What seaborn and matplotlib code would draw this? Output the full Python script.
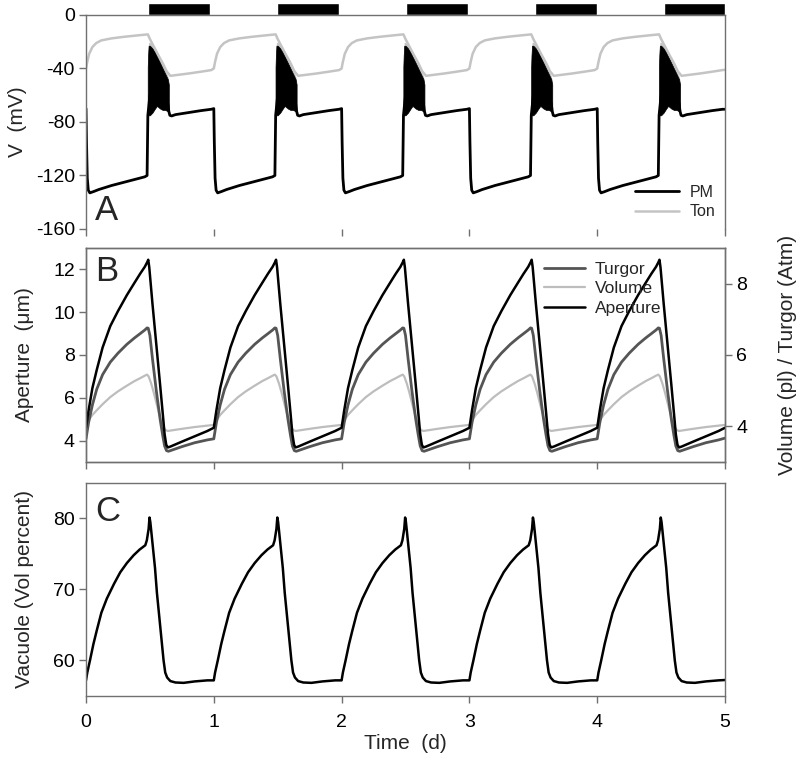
import numpy as np
import pandas as pd
import matplotlib
matplotlib.use("Agg")
import matplotlib.pyplot as plt
from matplotlib.lines import Line2D
import seaborn as sns

# ---------------- data (one daily cycle; the cycle repeats each day) ----------------
days = [0, 1, 2, 3, 4]
t_end = 5.0

# Panel A: membrane voltages (mV)
pm_phase = [0.000, 0.004, 0.010, 0.018, 0.030, 0.060, 0.100, 0.200, 0.300, 0.400, 0.460, 0.478,
            0.484, 0.500, 0.540, 0.600, 0.640, 0.648, 0.656, 0.670, 0.700, 0.800, 0.900, 0.980]
pm_val = [-70, -95, -122, -131, -133, -132, -130.5, -127.5, -125, -122.5, -121, -120,
          -75, -60, -55, -60, -66, -72, -75, -75.5, -74.5, -73, -71.5, -70.5]
pm_last = -70.5

ton_phase = [0.00, 0.01, 0.025, 0.05, 0.08, 0.12, 0.20, 0.30, 0.40, 0.484, 0.50, 0.53, 0.56,
             0.60, 0.63, 0.66, 0.70, 0.80, 0.90, 0.98]
ton_val = [-40, -35, -29, -24, -21, -19, -17.5, -16.3, -15.3, -14.5, -18, -23.5, -29,
           -36, -42, -45.5, -45, -43.8, -42.4, -41.2]
ton_last = -41.0

# night-time PM burst envelope
osc_phase = [0.483, 0.486, 0.490, 0.500, 0.520, 0.540, 0.555, 0.580, 0.600, 0.620, 0.640, 0.648]
osc_hi = [-39, -30, -23, -23, -25, -28, -31, -36, -40, -44, -48, -52]
osc_lo = [-75, -75, -75, -75, -73, -70, -68, -70, -71, -71, -72, -72]

# night bars (dark period)
night_start = [0.483, 1.494, 2.504, 3.511, 4.52]
night_end = [0.97, 1.98, 2.99, 4.0, 5.0]

# Panel B: aperture (um, left) and turgor / volume (right)
ap_phase = [0.00, 0.02, 0.05, 0.084, 0.13, 0.19, 0.25, 0.32, 0.38, 0.424, 0.46, 0.48, 0.487,
            0.495, 0.52, 0.55, 0.58, 0.60, 0.615, 0.628, 0.64, 0.66, 0.75, 0.85, 0.95]
ap_val = [4.6, 5.4, 6.45, 7.3, 8.35, 9.35, 10.05, 10.8, 11.38, 11.8, 12.12, 12.35, 12.45,
          12.1, 10.4, 8.5, 6.6, 5.3, 4.3, 3.8, 3.68, 3.72, 3.95, 4.2, 4.45]
ap_last = 4.6

tur_phase = [0.00, 0.02, 0.05, 0.084, 0.13, 0.19, 0.25, 0.32, 0.38, 0.424, 0.46, 0.478, 0.487,
             0.50, 0.52, 0.55, 0.58, 0.60, 0.615, 0.63, 0.645, 0.75, 0.85, 0.95]
tur_val = [3.65, 4.1, 4.6, 5.04, 5.45, 5.8, 6.05, 6.3, 6.48, 6.6, 6.7, 6.76, 6.75,
           6.55, 5.9, 5.0, 4.2, 3.75, 3.45, 3.32, 3.3, 3.43, 3.54, 3.62]
tur_last = 3.67

vol_phase = [0.00, 0.02, 0.05, 0.084, 0.13, 0.19, 0.25, 0.32, 0.38, 0.424, 0.46, 0.478, 0.49,
             0.51, 0.53, 0.555, 0.58, 0.60, 0.62, 0.64, 0.75, 0.85, 0.95]
vol_val = [4.04, 4.17, 4.32, 4.45, 4.62, 4.82, 4.98, 5.14, 5.27, 5.35, 5.42, 5.45, 5.4,
           5.2, 4.95, 4.6, 4.25, 4.02, 3.9, 3.87, 3.93, 3.98, 4.02]
vol_last = 4.04

# Panel C: vacuole volume percent
vac_phase = [0.00, 0.01, 0.031, 0.058, 0.084, 0.12, 0.163, 0.22, 0.268, 0.32, 0.373, 0.42, 0.464,
             0.476, 0.49, 0.497, 0.503, 0.51, 0.54, 0.555, 0.58, 0.607, 0.62, 0.635, 0.66,
             0.70, 0.764, 0.85, 0.95]
vac_val = [57.2, 58.3, 60.0, 62.3, 64.2, 66.7, 68.7, 70.8, 72.4, 73.7, 74.8, 75.6, 76.2,
           76.9, 78.5, 80.1, 79.5, 78.3, 73.0, 69.5, 65.0, 60.0, 58.3, 57.6, 57.1,
           56.9, 56.85, 57.05, 57.2]
vac_last = 57.25

x_ticks = [0, 1, 2, 3, 4, 5]
a_ticks = [0, -40, -80, -120, -160]
b_left_ticks = [4, 6, 8, 10, 12]
b_right_ticks = [4, 6, 8]
c_ticks = [60, 70, 80]


def series(phase, vals, last):
    t = [d + p for d in days for p in phase] + [t_end]
    v = list(vals) * len(days) + [last]
    return pd.DataFrame({"t": t, "v": v})


# ---------------- style ----------------
sns.set_theme(style="white")
plt.rcParams["font.family"] = ["Liberation Sans", "DejaVu Sans"]
plt.rcParams["axes.unicode_minus"] = False
plt.rcParams["axes.edgecolor"] = "#707070"
plt.rcParams["axes.linewidth"] = 1.0
spine_c = "#707070"

fig = plt.figure(figsize=(7.97, 7.6), dpi=100)
L, W = 0.1079, 0.8018
axA = fig.add_axes([L, 0.6987, W, 0.2816])
axB = fig.add_axes([L, 0.3921, W, 0.2816])
axC = fig.add_axes([L, 0.0842, W, 0.2807])
axB2 = axB.twinx()

TICK = 14
LAB = 15

def style(ax, bottom_spine=True):
    ax.set_xlim(0, 5)
    ax.set_xticks(x_ticks)
    ax.tick_params(axis="both", direction="out", length=5, width=1, color=spine_c,
                   labelsize=TICK, labelcolor="black", pad=3)
    ax.tick_params(axis="x", bottom=True)
    ax.tick_params(axis="y", left=True)
    for s in ax.spines.values():
        s.set_color(spine_c)
        s.set_visible(True)
    if not bottom_spine:
        ax.spines["bottom"].set_visible(False)
    ax.grid(False)

# ---------------- Panel A ----------------
ton_df = series(ton_phase, ton_val, ton_last)
pm_df = series(pm_phase, pm_val, pm_last)
sns.lineplot(data=ton_df, x="t", y="v", ax=axA, color="#c4c4c4", lw=1.8,
             estimator=None, sort=False, label="Ton")
for d in days:
    axA.fill_between([d + p for p in osc_phase], [h + 2.5 for h in osc_hi],
                     [h - 1 for h in osc_hi], color="#c4c4c4", lw=0)
sns.lineplot(data=pm_df, x="t", y="v", ax=axA, color="black", lw=2.0,
             estimator=None, sort=False, label="PM")
for d in days:
    axA.fill_between([d + p for p in osc_phase], osc_hi, osc_lo, color="black", lw=0.5)
axA.broken_barh([(s, e - s) for s, e in zip(night_start, night_end)], (0, 9.3),
                facecolors="black", clip_on=False)
axA.set_ylim(-160, 0)
axA.set_yticks(a_ticks)
style(axA, bottom_spine=False)
axA.set_xticklabels([])
axA.set_xlabel("")
axA.set_ylabel("V  (mV)", fontsize=LAB, labelpad=6)
h, l = axA.get_legend_handles_labels()
order = [l.index("PM"), l.index("Ton")]
axA.legend([h[i] for i in order], [l[i] for i in order], loc="lower right", frameon=False,
           fontsize=11.5, handlelength=2.7, handletextpad=0.7, labelspacing=0.3,
           borderaxespad=0.2)
axA.text(0.014, 0.042, "A", transform=axA.transAxes, fontsize=25, va="baseline", ha="left")

# ---------------- Panel B ----------------
ap_df = series(ap_phase, ap_val, ap_last)
tur_df = series(tur_phase, tur_val, tur_last)
vol_df = series(vol_phase, vol_val, vol_last)
sns.lineplot(data=vol_df, x="t", y="v", ax=axB2, color="#bdbdbd", lw=1.6,
             estimator=None, sort=False)
sns.lineplot(data=tur_df, x="t", y="v", ax=axB2, color="#555555", lw=2.0,
             estimator=None, sort=False)
sns.lineplot(data=ap_df, x="t", y="v", ax=axB, color="black", lw=1.8,
             estimator=None, sort=False)
axB.set_zorder(axB2.get_zorder() + 1)
axB.patch.set_visible(False)
axB.set_ylim(3, 13)
axB.set_yticks(b_left_ticks)
axB2.set_ylim(3, 9)
axB2.set_yticks(b_right_ticks)
style(axB)
style(axB2)
axB2.tick_params(axis="y", right=True, left=False)
axB.set_xticklabels([])
axB.set_xlabel("")
axB2.set_xlabel("")
axB.set_ylabel("Aperture  (\u03bcm)", fontsize=LAB, labelpad=14)
axB2.set_ylabel("Volume (pl) / Turgor (Atm)", fontsize=LAB, labelpad=22)
handles = [Line2D([], [], color="#555555", lw=2.0), Line2D([], [], color="#bdbdbd", lw=1.6),
           Line2D([], [], color="black", lw=1.8)]
axB.legend(handles, ["Turgor", "Volume", "Aperture"], loc="upper left",
           bbox_to_anchor=(0.7, 0.985), frameon=False, fontsize=12.5, handlelength=2.4,
           handletextpad=0.55, labelspacing=0.25, borderaxespad=0.2)
axB.text(0.014, 0.967, "B", transform=axB.transAxes, fontsize=25, va="top", ha="left")

# ---------------- Panel C ----------------
vac_df = series(vac_phase, vac_val, vac_last)
sns.lineplot(data=vac_df, x="t", y="v", ax=axC, color="black", lw=1.8,
             estimator=None, sort=False)
axC.set_ylim(55, 85)
axC.set_yticks(c_ticks)
style(axC)
axC.set_xticklabels([str(x) for x in x_ticks])
axC.tick_params(axis="x", pad=8)
axC.set_xlabel("Time  (d)", fontsize=LAB, labelpad=2)
axC.set_ylabel("Vacuole (Vol percent)", fontsize=LAB, labelpad=14)
axC.text(0.014, 0.942, "C", transform=axC.transAxes, fontsize=25, va="top", ha="left")

fig.savefig("out.png", dpi=100)
